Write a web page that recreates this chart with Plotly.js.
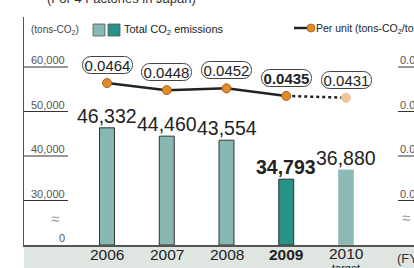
<!DOCTYPE html>
<html><head><meta charset="utf-8">
<script src="https://cdn.plot.ly/plotly-3.0.1.min.js"></script>
<style>html,body{margin:0;padding:0;background:#fff;}#chart{width:414px;height:268px;}</style>
</head><body><div id="chart"></div>
<script>
// ---- data ----
const years = ['2006', '2007', '2008', '2009', '2010'];
const yearLabels = ['2006', '2007', '2008', '<b>2009</b>', '2010'];
const yearSubLabels = ['', '', '', '', 'target'];
const emissions = [46332, 44460, 43554, 34793, 36880];
const emissionLabels = ['46,332', '44,460', '43,554', '<b>34,793</b>', '36,880'];
const perUnit = [0.0464, 0.0448, 0.0452, 0.0435, 0.0431];
const perUnitLabels = ['0.0464', '0.0448', '0.0452', '<b>0.0435</b>', '0.0431'];
const leftTickVals = [60000, 50000, 40000, 30000];
const leftTickText = ['60,000', '50,000', '40,000', '30,000'];
const rightTickVals = [0.05, 0.04, 0.03, 0.02];
const rightTickText = ['0.05', '0.04', '0.03', '0.02'];

// broken-axis transforms (0..30,000 compressed below the break)
const disp = v => v >= 30000 ? v - 20000 : v / 3;
const disp2 = u => (u - 0.02) * 1e6 + 10000;

const W = 414, H = 268, L = 24, R = 0, T = 17, B = 23;
const pw = W - L - R, ph = H - T - B;
const px = x => (x - L) / pw;
const py = y => (H - B - y) / ph;

const font = 'Liberation Sans, Arial, sans-serif';
const light = '#87b8b3', dark = '#2a9189';

const traces = [
  {
    type: 'bar', x: years, y: emissions.map(disp), width: 0.25,
    marker: {
      color: [light, light, light, dark, '#8cb9b5'],
      line: {color: ['#333', '#333', '#333', '#333', '#a3c4c0'], width: 1}
    },
    hoverinfo: 'skip'
  },
  {
    type: 'scatter', mode: 'lines', x: years.slice(0, 4), y: perUnit.slice(0, 4).map(disp2),
    line: {color: '#222', width: 2.5}, hoverinfo: 'skip'
  },
  {
    type: 'scatter', mode: 'lines', x: years.slice(3), y: perUnit.slice(3).map(disp2),
    line: {color: '#222', width: 2.5, dash: 'dot'}, hoverinfo: 'skip'
  },
  {
    type: 'scatter', mode: 'markers', x: years, y: perUnit.map(disp2),
    marker: {size: 9, color: ['#e08a2a', '#e08a2a', '#e08a2a', '#e08a2a', '#f2c396'],
      line: {color: ['#a8611b', '#a8611b', '#a8611b', '#a8611b', '#f2c396'], width: 1}},
    hoverinfo: 'skip'
  }
];

const annotations = [];
const shapes = [];

// bottom band
shapes.push({type: 'rect', xref: 'paper', yref: 'paper', x0: 0, x1: 1, y0: 0, y1: -B / ph,
  fillcolor: '#dfe6e1', line: {width: 0}, layer: 'below'});

// left ticks
leftTickVals.forEach((v, i) => {
  shapes.push({type: 'line', xref: 'paper', yref: 'y', x0: 0, x1: px(68), y0: disp(v), y1: disp(v),
    line: {color: '#333', width: 1}});
  annotations.push({xref: 'paper', yref: 'y', x: px(67), y: disp(v), xanchor: 'right', yanchor: 'bottom',
    text: leftTickText[i], showarrow: false, font: {family: font, size: 11, color: '#555'}, yshift: -1});
});
annotations.push({xref: 'paper', yref: 'paper', x: px(67), y: py(238), xanchor: 'right', yanchor: 'middle',
  text: '0', showarrow: false, font: {family: font, size: 11, color: '#555'}});
annotations.push({xref: 'paper', yref: 'paper', x: px(55), y: py(218), xanchor: 'center', yanchor: 'middle',
  text: '≈', showarrow: false, font: {family: font, size: 15, color: '#999'}});

// right ticks (cut off at the edge, as in the reference)
rightTickVals.forEach((u, i) => {
  shapes.push({type: 'line', xref: 'paper', yref: 'y', x0: px(398), x1: 1, y0: disp2(u), y1: disp2(u),
    line: {color: '#333', width: 1}});
  annotations.push({xref: 'paper', yref: 'y', x: px(398), y: disp2(u), xanchor: 'left', yanchor: 'bottom',
    text: rightTickText[i], showarrow: false, font: {family: font, size: 11, color: '#555'}, yshift: -1});
});
annotations.push({xref: 'paper', yref: 'paper', x: px(400), y: py(217), xanchor: 'left', yanchor: 'middle',
  text: '≈', showarrow: false, font: {family: font, size: 15, color: '#999'}});

// bar value labels
years.forEach((yr, i) => {
  annotations.push({xref: 'x', yref: 'y', x: i, y: disp(emissions[i]), xanchor: 'center', yanchor: 'bottom', yshift: -1,
    text: emissionLabels[i], showarrow: false, font: {family: font, size: 19.5, color: '#222'}});
});
// per-unit labels in rounded boxes
years.forEach((yr, i) => {
  annotations.push({xref: 'x', yref: 'y', x: i, y: disp2(perUnit[i]), xanchor: 'center', yanchor: 'middle', yshift: 18,
    text: perUnitLabels[i], showarrow: false, font: {family: font, size: 15, color: '#222'},
    bordercolor: '#444', borderwidth: 1, bgcolor: '#fff', borderpad: 0, width: 49, height: 16});
});
// x labels
years.forEach((yr, i) => {
  const sub = yearSubLabels[i];
  annotations.push({xref: 'x', yref: 'paper', x: i, y: py(sub ? 253.5 : 255), xanchor: 'center', yanchor: 'middle',
    text: yearLabels[i], showarrow: false, font: {family: font, size: 15.5, color: '#222'}});
  if (sub) {
    annotations.push({xref: 'x', yref: 'paper', x: i, y: py(268), xanchor: 'center', yanchor: 'middle',
      text: sub, showarrow: false, font: {family: font, size: 11, color: '#222'}});
  }
});
annotations.push({xref: 'paper', yref: 'paper', x: px(395), y: py(258), xanchor: 'left', yanchor: 'middle',
  text: '(FY)', showarrow: false, font: {family: font, size: 13, color: '#333'}});

// top note (cut off)
annotations.push({xref: 'paper', yref: 'paper', x: px(121), y: py(-1), xanchor: 'center', yanchor: 'middle',
  text: '(For 4 Factories in Japan)', showarrow: false, font: {family: font, size: 13, color: '#333'}});

// legend
annotations.push({xref: 'paper', yref: 'paper', x: px(29), y: py(30), xanchor: 'left', yanchor: 'middle',
  text: '(tons-CO<sub>2</sub>)', showarrow: false, font: {family: font, size: 10, color: '#444'}});
shapes.push({type: 'rect', xref: 'paper', yref: 'paper', x0: px(93), x1: px(105), y0: py(36), y1: py(24),
  fillcolor: light, line: {color: '#555', width: 0.8}});
shapes.push({type: 'rect', xref: 'paper', yref: 'paper', x0: px(108), x1: px(120), y0: py(36), y1: py(24),
  fillcolor: dark, line: {color: '#555', width: 0.8}});
annotations.push({xref: 'paper', yref: 'paper', x: px(122), y: py(30), xanchor: 'left', yanchor: 'middle',
  text: 'Total CO<sub>2</sub> emissions', showarrow: false, font: {family: font, size: 11, color: '#222'}});
shapes.push({type: 'line', xref: 'paper', yref: 'paper', x0: px(294), x1: px(310), y0: py(28), y1: py(28),
  line: {color: '#222', width: 2.5}});
shapes.push({type: 'circle', xref: 'paper', yref: 'paper', x0: px(307), x1: px(315), y0: py(32), y1: py(24),
  fillcolor: '#e08a2a', line: {color: '#a8611b', width: 0.8}});
annotations.push({xref: 'paper', yref: 'paper', x: px(314), y: py(29), xanchor: 'left', yanchor: 'middle',
  text: 'Per unit (tons-CO<sub>2</sub>/ton)', showarrow: false, font: {family: font, size: 10.5, color: '#222'}});

const layout = {
  width: W, height: H,
  margin: {l: L, r: R, t: T, b: B, pad: 0},
  paper_bgcolor: '#fff', plot_bgcolor: '#fff',
  showlegend: false,
  xaxis: {type: 'category', range: [-1.389, 5.138], showticklabels: false, showgrid: false, zeroline: false,
    showline: true, linecolor: '#555', linewidth: 1.5, ticks: '', fixedrange: true},
  yaxis: {range: [0, ph * 10000 / 44.5], showticklabels: false, showgrid: false, zeroline: false,
    showline: true, linecolor: '#555', linewidth: 1.5, ticks: '', fixedrange: true},
  shapes: shapes,
  annotations: annotations
};

Plotly.newPlot('chart', traces, layout, {staticPlot: true, displayModeBar: false}).then(() => {
  document.querySelectorAll('.annotation rect.bg').forEach(r => {
    const sw = parseFloat(r.style.strokeWidth || r.getAttribute('stroke-width') || '0');
    if (sw > 0) { r.setAttribute('rx', 8); r.setAttribute('ry', 8); }
  });
});
</script></body></html>
